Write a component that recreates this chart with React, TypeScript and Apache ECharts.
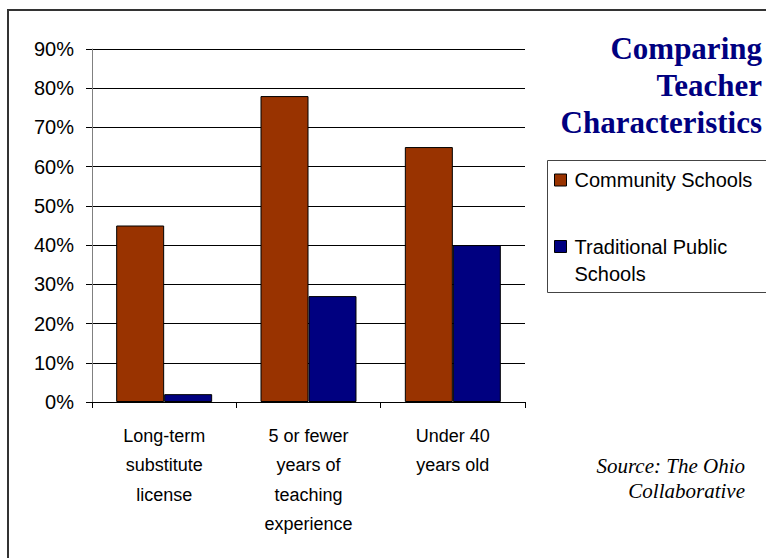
import React, { useEffect, useRef } from "react";
import * as echarts from "echarts";

const categories = [
  "Long-term\nsubstitute\nlicense",
  "5 or fewer\nyears of\nteaching\nexperience",
  "Under 40\nyears old",
];
const communitySchools = [45, 78, 65];
const traditionalSchools = [2, 27, 40];
const yTicks = [0, 10, 20, 30, 40, 50, 60, 70, 80, 90];
const titleText = "Comparing\nTeacher\nCharacteristics";
const sourceText = "Source: The Ohio\nCollaborative";

export default function App() {
  const ref = useRef<HTMLDivElement>(null);
  useEffect(() => {
    const chart = echarts.init(ref.current!, null, { renderer: "svg" });
    chart.setOption({
      animation: false,
      backgroundColor: "#fff",
      legend: [
        {
          data: ["Community Schools"],
          left: 549,
          top: 165,
          itemWidth: 12,
          itemHeight: 12,
          icon: "rect",
          itemStyle: { borderColor: "#000", borderWidth: 1 },
          textStyle: { fontFamily: "'Liberation Sans', Arial, sans-serif", fontSize: 20, color: "#000", padding: [0, 0, 0, 3] },
          selectedMode: false,
        },
        {
          data: ["Traditional Public Schools"],
          left: 549,
          top: 201,
          itemWidth: 12,
          itemHeight: 12,
          icon: "rect",
          formatter: () => " \nTraditional Public\nSchools",
          itemStyle: { borderColor: "#000", borderWidth: 1 },
          textStyle: {
            fontFamily: "'Liberation Sans', Arial, sans-serif",
            fontSize: 20,
            lineHeight: 27,
            color: "#000",
            padding: [0, 0, 0, 3],
          },
          selectedMode: false,
        },
      ],
      graphic: [
        {
          type: "rect",
          shape: { x: 8, y: 10, width: 800, height: 600 },
          style: { fill: "none", stroke: "#333", lineWidth: 2 },
          z: 100,
        },
        {
          type: "rect",
          shape: { x: 547.5, y: 160.5, width: 300, height: 132 },
          style: { fill: "none", stroke: "#444", lineWidth: 1 },
          z: 100,
        },
        {
          type: "text",
          x: 762,
          y: 30,
          style: {
            text: titleText,
            align: "right",
            verticalAlign: "top",
            font: "bold 31px 'Liberation Serif', 'Times New Roman', serif",
            lineHeight: 37,
            fill: "#000080",
          },
        },
        {
          type: "text",
          x: 745,
          y: 453,
          style: {
            text: sourceText,
            align: "right",
            verticalAlign: "top",
            font: "italic 21px 'Liberation Serif', 'Times New Roman', serif",
            lineHeight: 25,
            fill: "#000",
          },
        },
      ],
      grid: { left: 92, right: 241, top: 49, bottom: 156, containLabel: false },
      xAxis: {
        type: "category",
        data: categories,
        axisLine: { lineStyle: { color: "#000", width: 1 } },
        axisTick: { show: true, length: 6, lineStyle: { color: "#000" } },
        axisLabel: {
          interval: 0,
          margin: 19,
          fontFamily: "'Liberation Sans', Arial, sans-serif",
          fontSize: 18,
          lineHeight: 29.5,
          color: "#000",
        },
      },
      yAxis: {
        type: "value",
        min: 0,
        max: 90,
        interval: 10,
        axisLine: { show: true, lineStyle: { color: "#808080" } },
        axisTick: { show: true, length: 6, lineStyle: { color: "#000" } },
        splitLine: { lineStyle: { color: "#000", width: 1 } },
        axisLabel: {
          formatter: (v: number) => (yTicks.includes(v) ? v + "%" : ""),
          margin: 18,
          fontFamily: "'Liberation Sans', Arial, sans-serif",
          fontSize: 20,
          color: "#000",
        },
      },
      series: [
        {
          name: "Community Schools",
          type: "bar",
          data: communitySchools,
          barGap: "0%",
          barCategoryGap: "33.5%",
          itemStyle: { color: "#993300", borderColor: "#000", borderWidth: 1 },
        },
        {
          name: "Traditional Public Schools",
          type: "bar",
          data: traditionalSchools,
          barGap: "0%",
          barCategoryGap: "33.5%",
          itemStyle: { color: "#000080", borderColor: "#000", borderWidth: 1 },
        },
      ],
    });
    return () => chart.dispose();
  }, []);
  return <div ref={ref} style={{ width: 766, height: 558, position: "absolute", left: 0, top: 0 }} />;
}
